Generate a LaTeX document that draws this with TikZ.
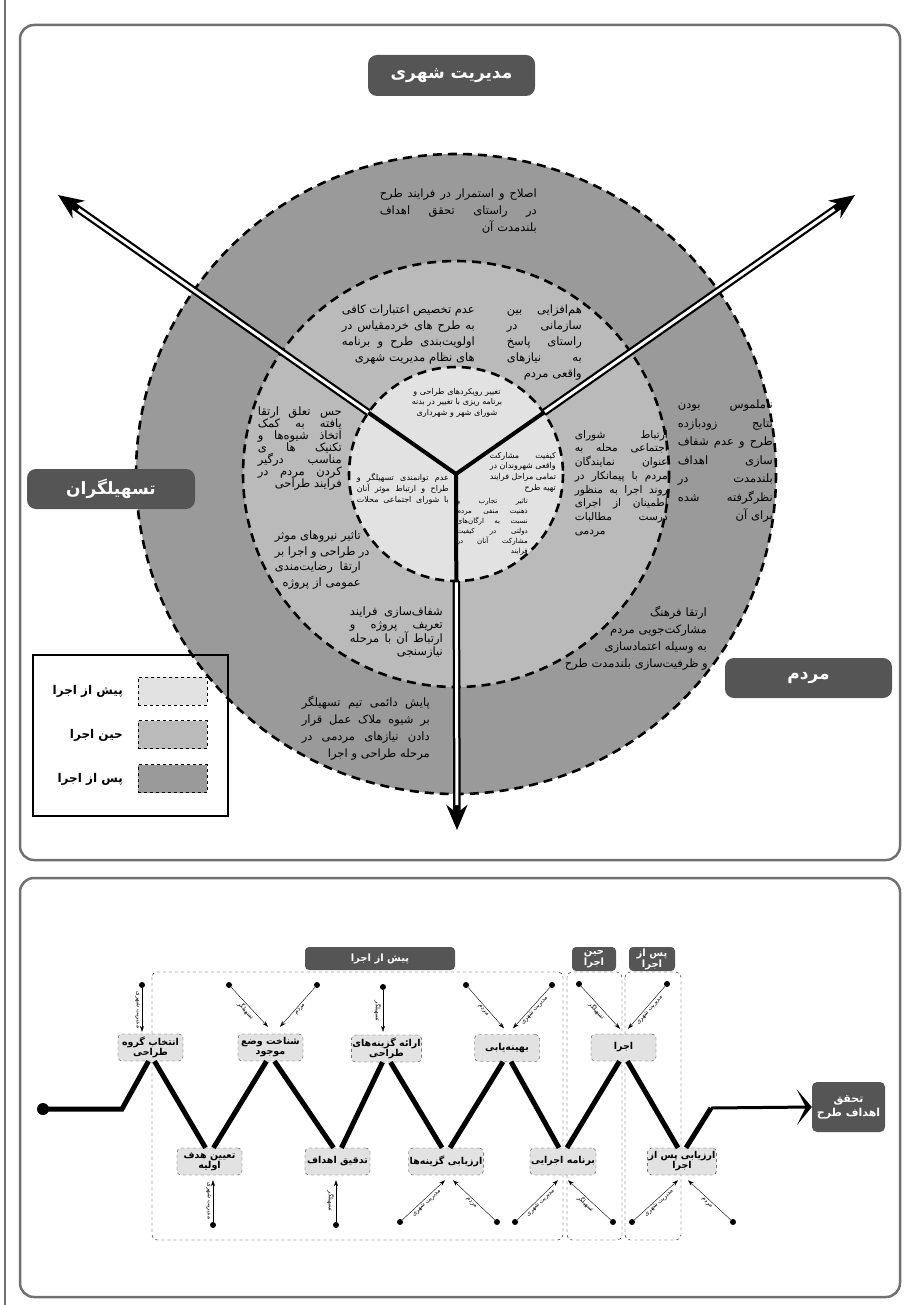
\documentclass[tikz,border=0pt]{standalone}
\usepackage{fontspec}
\TeXXeTstate=1
\newfontfamily\fafont[Script=Arabic]{DejaVu Sans}
\usetikzlibrary{arrows.meta,calc}

\definecolor{darkring}{HTML}{9A9A9A}
\definecolor{midring}{HTML}{BABABA}
\definecolor{lightring}{HTML}{E2E2E2}
\definecolor{tagfill}{HTML}{555555}
\definecolor{framegray}{HTML}{707070}

% one persian line, and justified / right / left / centred lines of a block
\newcommand\fa[1]{\beginR#1\endR}
\newcommand\blk[1]{\vbox{#1}}
\def\jlsplit#1 #2\jlend{#1\ifx\relax#2\relax\else\hskip.3em plus 1fil\relax\jlsplit#2\jlend\fi}
\newcommand\jl[1]{\hbox to \hsize{\beginR\jlsplit#1 \jlend\endR}}
\newcommand\rl[1]{\hbox to \hsize{\hfill\beginR#1\endR}}
\newcommand\lfl[1]{\hbox to \hsize{\beginR#1\endR\hfill}}
\newcommand\cl[1]{\hbox to \hsize{\hfill\beginR#1\endR\hfill}}

\tikzset{
  panel/.style={draw=framegray, line width=2.5pt, rounded corners=14pt},
  ring/.style={draw, line width=2.6pt, dash pattern=on 9pt off 6pt},
  axis/.style={line width=7.5pt, -{Stealth[length=25pt,width=21pt]}},
  tag/.style={fill=tagfill, rounded corners=9pt, text=white, inner sep=0pt,
    font=\fafont\bfseries\fontsize{17}{19}\selectfont},
  blurb/.style 2 args={anchor=north east, inner sep=0pt, text width=#1,
    font=\fafont\fontsize{11.5}{#2}\selectfont},
  tinyblurb/.style 2 args={anchor=north east, inner sep=0pt, text width=#1,
    font=\fafont\fontsize{8}{#2}\selectfont},
  swatch/.style={draw, dashed, thick, minimum width=69pt, minimum height=28pt, inner sep=0pt},
  keylabel/.style={anchor=east, inner sep=0pt, font=\fafont\bfseries\fontsize{12}{14}\selectfont},
  stage/.style={draw=black!80, dashed, fill=lightring, rounded corners=4pt,
    minimum width=65pt, minimum height=27pt, inner sep=1pt, align=center,
    font=\fafont\bfseries\fontsize{9.5}{10}\selectfont},
  phase/.style={draw, dashed, thin, rounded corners=5pt},
  phasetag/.style={fill=tagfill, rounded corners=4pt, text=white, inner sep=0pt, align=center,
    font=\fafont\bfseries\fontsize{10}{10}\selectfont},
  goal/.style={fill=tagfill, rounded corners=5pt, text=white, inner sep=0pt, align=center,
    minimum width=73pt, minimum height=50pt, font=\fafont\bfseries\fontsize{11}{14}\selectfont},
  track/.style={line width=5pt},
  dot/.style={circle, fill, inner sep=0pt, minimum size=6pt},
  feed/.style={thin, -{Stealth[length=6pt,width=4pt]}},
  feedlabel/.style={font=\fafont\fontsize{6}{7}\selectfont, inner sep=1.5pt},
}

\begin{document}
\begin{tikzpicture}[x=1pt, y=-1pt]
  \useasboundingbox (0,0) rectangle (903,1305);

  % frames
  \draw[framegray, line width=1.5pt] (5,0) -- (5,1305);
  \draw[panel] (20,25) rectangle (900,860);
  \draw[panel] (20,878) rectangle (900,1297);

  % rings
  \coordinate (c) at (456,474);
  \fill[darkring] (c) circle[radius=320];
  \fill[midring] (c) circle[radius=213];
  \draw[ring] (c) circle[radius=320];
  \draw[ring] (c) circle[radius=213];

  % three axes
  \coordinate (ul) at (58,195);
  \coordinate (ur) at (855,195);
  \coordinate (dn) at (457,830);
  \foreach \t in {ul,ur,dn}{
    \draw[axis] (c) -- (\t);
    \draw[white, line width=3pt, shorten >=25pt] (c) -- (\t);
  }
  \fill[lightring] (c) circle[radius=107];
  \draw[ring] (c) circle[radius=107];
  \foreach \t in {ul,ur,dn}
    \draw[line width=4pt] (c) -- ($(c)!107pt!(\t)$);

  % outer ring
  \node[blurb={157pt}{17pt}] (o1) at (537,189) {\blk{%
    \jl{اصلاح و استمرار در فرایند طرح}\jl{در راستای تحقق اهداف}\rl{بلندمدت آن}}};
  \node[blurb={95pt}{18.5pt}] (o2) at (773,400) {\blk{%
    \jl{ناملموس بودن}\jl{نتایج زودبازده}\jl{طرح و عدم شفاف}\jl{سازی اهداف}%
    \jl{بلندمدت در}\jl{نظرگرفته شده}\rl{برای آن}}};
  \node[blurb={142pt}{17pt}] (o3) at (707,606) {\blk{%
    \rl{ارتقا فرهنگ}\rl{مشارکت‌جویی مردم}\rl{به وسیله اعتمادسازی}\rl{و ظرفیت‌سازی بلندمدت طرح}}};
  \node[blurb={128pt}{17pt}] (o4) at (430,696) {\blk{%
    \jl{پایش دائمی تیم تسهیلگر}\jl{بر شیوه ملاک عمل قرار}\jl{دادن نیازهای مردمی در}\rl{مرحله طراحی و اجرا}}};

  % middle ring
  \node[blurb={133pt}{16pt}] (m1) at (475,305) {\blk{%
    \jl{عدم تخصیص اعتبارات کافی}\jl{به طرح های خردمقیاس در}\jl{اولویت‌بندی طرح و برنامه}\rl{های نظام مدیریت شهری}}};
  \node[blurb={75pt}{16pt}] (m2) at (582,305) {\blk{%
    \jl{هم‌افزایی بین}\jl{سازمانی در}\jl{راستای پاسخ}\jl{به نیازهای}\rl{واقعی مردم}}};
  \node[blurb={93pt}{13.7pt}, font=\fafont\fontsize{10.6}{13.7}\selectfont] (m3) at (668,430) {\blk{%
    \jl{ارتباط شورای}\jl{اجتماعی محله به}\jl{عنوان نمایندگان}\jl{مردم با پیمانکار در}%
    \jl{روند اجرا به منظور}\jl{اطمینان از اجرای}\jl{درست مطالبات}\lfl{مردمی}}};
  \node[blurb={93pt}{12.3pt}] (m4) at (443,607) {\blk{%
    \jl{شفاف‌سازی فرایند}\jl{تعریف پروژه و}\jl{ارتباط آن با مرحله}\rl{نیازسنجی}}};
  \node[blurb={86pt}{15.5pt}] (m5) at (361,531) {\blk{%
    \jl{تاثیر نیروهای موثر}\jl{در طراحی و اجرا بر}\jl{ارتقا رضایت‌مندی}\rl{عمومی از پروژه}}};
  \node[blurb={84pt}{12pt}] (m6) at (342,407) {\blk{%
    \jl{حس تعلق ارتقا}\jl{یافته به کمک}\jl{اتخاذ شیوه‌ها و}\jl{تکنیک ها ی}%
    \jl{مناسب درگیر}\jl{کردن مردم در}\rl{فرایند طراحی}}};

  % inner circle
  \node[tinyblurb={100pt}{10.5pt}, anchor=north] (n1) at (457,388) {\blk{%
    \cl{تغییر رویکردهای طراحی و}\cl{برنامه ریزی با تغییر در بدنه}\cl{شورای شهر و شهرداری}}};
  \node[tinyblurb={66pt}{10.7pt}] (n2) at (556,452) {\blk{%
    \jl{کیفیت مشارکت}\jl{واقعی شهروندان در}\jl{تمامی مراحل فرایند}\rl{تهیه طرح}}};
  \node[tinyblurb={71pt}{10pt}, font=\fafont\fontsize{7}{10}\selectfont] (n3) at (528,498) {\blk{%
    \jl{تاثیر تجارب و}\jl{ذهنیت منفی مردم}\jl{نسبت به ارگان‌های}\jl{دولتی در کیفیت}%
    \jl{مشارکت آنان در}\rl{فرایند}}};
  \node[tinyblurb={92pt}{11pt}] (n4) at (449,473) {\blk{%
    \jl{عدم توانمندی تسهیلگر و}\jl{طراح و ارتباط موثر آنان}\jl{با شورای اجتماعی محلات}}};

  % actors
  \node[tag, minimum width=167pt, minimum height=41pt] (city) at (451.5,75.5) {\fa{مدیریت شهری}};
  \node[tag, minimum width=168pt, minimum height=40pt] (helpers) at (111,489) {\fa{تسهیلگران}};
  \node[tag, minimum width=167pt, minimum height=40pt] (people) at (808.5,678) {\fa{مردم}};

  % legend
  \draw[line width=1.2pt] (33,655) rectangle (228,816);
  \node[swatch, fill=lightring] (key1) at (172.5,691) {};
  \node[swatch, fill=midring] (key2) at (172.5,734.5) {};
  \node[swatch, fill=darkring] (key3) at (172.5,778.5) {};
  \node[keylabel] at (123,691) {\fa{پیش از اجرا}};
  \node[keylabel] at (123,735) {\fa{حین اجرا}};
  \node[keylabel] at (123,779) {\fa{پس از اجرا}};

  % phases of the process
  \draw[phase] (152,972) rectangle (563,1240);
  \draw[phase] (567,972) rectangle (622,1240);
  \draw[phase] (625,972) rectangle (681,1240);
  \node[phasetag, minimum width=150pt, minimum height=23pt] (pre) at (380,958.5) {\fa{پیش از اجرا}};
  \node[phasetag, minimum width=44pt, minimum height=24pt] (during) at (594,959) {\fa{حین}\\\fa{اجرا}};
  \node[phasetag, minimum width=46pt, minimum height=24pt] (post) at (652,959) {\fa{پس از}\\\fa{اجرا}};

  % stages
  \node[stage] (s1) at (150.5,1047.5) {\fa{انتخاب گروه}\\\fa{طراحی}};
  \node[stage] (s2) at (270.5,1047.5) {\fa{شناخت وضع}\\\fa{موجود}};
  \node[stage] (s3) at (386.5,1048.5) {\fa{ارائه گزینه‌های}\\\fa{طراحی}};
  \node[stage] (s4) at (507,1048) {\fa{بهینه‌یابی}};
  \node[stage] (s5) at (623.5,1047.5) {\fa{اجرا}};
  \node[stage] (s6) at (209.5,1161.5) {\fa{تعیین هدف}\\\fa{اولیه}};
  \node[stage] (s7) at (337.5,1161.5) {\fa{تدقیق اهداف}};
  \node[stage] (s8) at (446,1161.5) {\fa{ارزیابی گزینه‌ها}};
  \node[stage] (s9) at (563,1161.5) {\fa{برنامه اجرایی}};
  \node[stage] (s10) at (682,1161.5) {\fa{ارزیابی پس از}\\\fa{اجرا}};
  \node[goal] (goal) at (848.5,1107) {\fa{تحقق}\\\fa{اهداف طرح}};

  % zigzag path
  \node[dot, minimum size=12pt] (start) at (43,1109) {};
  \coordinate (bend1) at (122,1109);
  \coordinate (bend2) at (711,1108);
  \draw[track, line join=miter] (start.center) -- (bend1) -- ([xshift=-2pt]s1.south);
  \foreach \a/\b in {s1/s6, s2/s7, s3/s8, s4/s9, s5/s10}
    \draw[track] ([xshift=4pt]\a.south) -- ([xshift=-4pt]\b.north);
  \foreach \a/\b in {s6/s2, s7/s3, s8/s4, s9/s5}
    \draw[track] ([xshift=4pt]\a.north) -- ([xshift=-4pt]\b.south);
  \draw[track] ([xshift=4pt]s10.north) -- (bend2);
  \draw[line width=3pt, -{Stealth[length=15pt,width=36pt,inset=9pt]}] (bend2) -- (goal.west);

  % inputs from above
  \node[dot] (i1) at (142,985) {};
  \node[dot] (i2a) at (229,985) {};
  \node[dot] (i2b) at (317,985) {};
  \node[dot] (i3) at (383,987) {};
  \node[dot] (i4a) at (466,985) {};
  \node[dot] (i4b) at (552,985) {};
  \node[dot] (i5a) at (579,984) {};
  \node[dot] (i5b) at (667,984) {};
  \draw[feed] (i1) -- ([xshift=-8.5pt,yshift=2pt]s1.north) node[midway, rotate=-90, anchor=north, feedlabel] {\fa{مدیریت شهری}};
  \draw[feed] (i2a) -- ([xshift=-2.5pt,yshift=7pt]s2.north) node[midway, sloped, below, feedlabel] {\fa{تسهیلگر}};
  \draw[feed] (i2b) -- ([xshift=9.5pt,yshift=7pt]s2.north) node[midway, sloped, below, feedlabel] {\fa{مردم}};
  \draw[feed] (i3) -- ([xshift=-3.5pt,yshift=3pt]s3.north) node[midway, rotate=-90, anchor=north, feedlabel] {\fa{تسهیلگر}};
  \draw[feed] (i4a) -- ([xshift=-3pt,yshift=6pt]s4.north) node[midway, sloped, below, feedlabel] {\fa{مردم}};
  \draw[feed] (i4b) -- ([xshift=6pt,yshift=6pt]s4.north) node[midway, sloped, below, feedlabel] {\fa{مدیریت شهری}};
  \draw[feed] (i5a) -- ([xshift=-3.5pt,yshift=5pt]s5.north) node[midway, sloped, below, feedlabel] {\fa{تسهیلگر}};
  \draw[feed] (i5b) -- ([xshift=4.5pt,yshift=5pt]s5.north) node[midway, sloped, below, feedlabel] {\fa{مدیریت شهری}};

  % inputs from below
  \node[dot] (j6) at (213,1225) {};
  \node[dot] (j7) at (336,1225) {};
  \node[dot] (j8a) at (400,1222) {};
  \node[dot] (j8b) at (497,1222) {};
  \node[dot] (j9a) at (515,1222) {};
  \node[dot] (j9b) at (613,1222) {};
  \node[dot] (j10a) at (632,1222) {};
  \node[dot] (j10b) at (733,1222) {};
  \draw[feed] (j6) -- ([xshift=3.5pt,yshift=-5pt]s6.south) node[midway, rotate=-90, anchor=north, feedlabel] {\fa{مدیریت شهری}};
  \draw[feed] (j7) -- ([xshift=-1.5pt,yshift=-5pt]s7.south) node[midway, rotate=-90, anchor=north, feedlabel] {\fa{تسهیلگر}};
  \draw[feed] (j8a) -- ([xshift=-1pt,yshift=-5pt]s8.south) node[midway, sloped, below, feedlabel] {\fa{مدیریت شهری}};
  \draw[feed] (j8b) -- ([xshift=7pt,yshift=-5pt]s8.south) node[midway, sloped, below, feedlabel] {\fa{مردم}};
  \draw[feed] (j9a) -- ([xshift=-5pt,yshift=-5pt]s9.south) node[midway, sloped, below, feedlabel] {\fa{مدیریت شهری}};
  \draw[feed] (j9b) -- ([xshift=5pt,yshift=-5pt]s9.south) node[midway, sloped, below, feedlabel] {\fa{تسهیلگر}};
  \draw[feed] (j10a) -- ([xshift=-4pt,yshift=-5pt]s10.south) node[midway, sloped, below, feedlabel] {\fa{مدیریت شهری}};
  \draw[feed] (j10b) -- ([xshift=6pt,yshift=-5pt]s10.south) node[midway, sloped, below, feedlabel] {\fa{مردم}};
\end{tikzpicture}
\end{document}
